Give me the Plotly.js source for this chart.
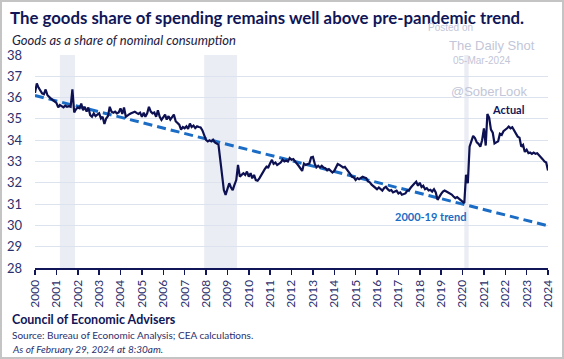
<!DOCTYPE html>
<html>
<head>
<meta charset="utf-8">
<script src="https://cdn.plot.ly/plotly-3.0.1.min.js"></script>
<style>
  html, body { margin: 0; padding: 0; background: #ffffff; }
  #wrap { position: relative; width: 564px; height: 359px; }
  #chart { position: absolute; left: 0; top: 0; width: 564px; height: 359px; }
  #frame { position: absolute; left: 0; top: 0; width: 564px; height: 359px; box-sizing: border-box; border: 2px solid #c4c4c4; pointer-events: none; }
</style>
</head>
<body>
<div id="wrap"><div id="chart"></div><div id="frame"></div></div>
<script>
// ---- Data ----
const startYear = 2000;
const goodsShare = [
  // 2000
  36.22,36.66,36.47,36.30,36.20,36.16,36.38,36.11,36.00,35.95,35.88,35.80,
  // 2001
  35.75,35.54,35.65,35.60,35.54,35.62,35.57,35.60,35.57,36.39,35.30,35.45,
  // 2002
  35.54,35.50,35.72,35.41,35.57,35.34,35.54,35.18,35.10,35.26,35.13,35.20,
  // 2003
  35.26,35.02,35.10,34.76,35.02,35.13,35.57,35.34,35.29,35.34,35.26,35.30,
  // 2004
  35.49,35.23,35.54,35.10,35.18,35.22,35.26,35.30,35.34,35.28,35.23,35.29,
  // 2005
  35.10,35.29,35.10,35.26,35.57,35.34,35.26,35.30,35.10,35.41,35.10,34.95,
  // 2006
  35.07,35.20,34.97,35.13,34.97,35.09,35.20,34.89,34.81,34.73,34.50,34.62,
  // 2007
  34.56,34.65,34.53,34.78,34.62,34.69,34.57,34.65,34.62,34.60,34.46,34.21,
  // 2008
  34.02,33.94,33.99,33.94,34.02,33.90,33.85,33.79,33.08,32.29,31.66,31.43,
  // 2009
  31.74,31.98,31.79,31.66,31.90,32.13,32.84,32.29,32.37,32.45,32.37,32.53,
  // 2010
  32.29,32.45,32.21,32.37,32.13,32.10,32.21,32.37,32.53,32.64,32.76,32.73,
  // 2011
  32.92,33.08,32.89,32.95,32.84,32.92,32.95,33.08,33.00,33.05,33.00,33.16,
  // 2012
  33.08,33.11,33.03,32.90,32.80,32.64,32.56,32.90,32.84,32.88,32.90,33.19,
  // 2013
  33.22,32.90,32.72,32.80,32.72,32.80,32.72,32.69,32.59,32.64,32.55,32.48,
  // 2014
  32.56,32.75,32.88,32.84,32.80,32.72,32.75,32.65,32.56,32.41,32.28,32.25,
  // 2015
  32.13,32.22,32.17,32.22,32.28,32.25,32.22,32.06,32.02,31.91,31.85,31.78,
  // 2016
  31.70,31.78,31.70,31.63,31.75,31.81,31.70,31.63,31.66,31.55,31.59,31.63,
  // 2017
  31.50,31.55,31.44,31.47,31.50,31.63,31.66,31.78,31.90,31.97,32.05,31.86,
  // 2018
  32.00,31.80,31.86,31.70,31.75,31.64,31.67,31.59,31.70,31.55,31.20,31.36,
  // 2019
  31.48,31.59,31.64,31.59,31.55,31.48,31.45,31.36,31.28,31.33,31.25,31.20,
  // 2020
  31.10,31.05,32.38,31.98,33.70,34.00,34.20,34.10,33.90,33.83,33.70,34.00,
  // 2021
  34.55,33.75,35.23,35.05,34.50,34.35,33.85,33.90,33.95,34.30,34.25,34.42,
  // 2022
  34.48,34.56,34.64,34.56,34.61,34.48,34.33,34.17,34.12,33.70,33.78,33.45,
  // 2023
  33.55,33.39,33.42,33.36,33.42,33.36,33.39,33.30,33.23,33.11,33.00,32.95,
  // 2024
  32.58
];
const trendDates = ['2000-01-01', '2024-01-01'];
const trendValues = [36.10, 29.98];
const recessionStart = ['2001-03-01', '2007-12-01', '2020-02-01'];
const recessionEnd   = ['2001-11-15', '2009-06-15', '2020-04-15'];
const yTicks = [28, 29, 30, 31, 32, 33, 34, 35, 36, 37, 38];
const xTickYears = ['2000','2001','2002','2003','2004','2005','2006','2007','2008','2009','2010','2011','2012','2013','2014','2015','2016','2017','2018','2019','2020','2021','2022','2023','2024'];

// monthly dates for the series
const dates = goodsShare.map((_, i) => {
  const y = startYear + Math.floor(i / 12);
  const m = (i % 12) + 1;
  return y + '-' + (m < 10 ? '0' + m : m) + '-01';
});

// ---- Layout geometry ----
const W = 564, H = 359;
const M = { l: 35, r: 16, t: 55, b: 91 };
const PW = W - M.l - M.r, PH = H - M.t - M.b;
const px = x => (x - M.l) / PW;
const py = y => 1 - (y - M.t) / PH;

const navy = '#101657';
const lineNavy = '#0d1152';
const trendBlue = '#1a6cc4';
const tickNavy = '#2a2f6e';
const wm = '#c3c6d8';
const FONT = 'Lato, "Open Sans", sans-serif';

const traces = [
  {
    x: trendDates, y: trendValues, type: 'scatter', mode: 'lines',
    line: { color: trendBlue, width: 3, dash: '9px,5px' },
    hoverinfo: 'skip', showlegend: false
  },
  {
    x: dates, y: goodsShare, type: 'scatter', mode: 'lines',
    line: { color: lineNavy, width: 2.2 },
    hoverinfo: 'skip', showlegend: false
  }
];

const shapes = recessionStart.map((s, i) => ({
  type: 'rect', xref: 'x', yref: 'y', x0: s, x1: recessionEnd[i], y0: 28, y1: 38,
  fillcolor: '#eaedf4', line: { width: 0 }, layer: 'below'
}));

const annotations = [
  { text: 'Goods as a share of nominal consumption', xref: 'paper', yref: 'paper', x: px(10), y: py(40),
    xanchor: 'left', yanchor: 'middle', showarrow: false,
    font: { family: FONT, size: 13, color: '#1c2040', style: 'italic' } },
  { text: 'Posted on', xref: 'paper', yref: 'paper', x: px(450), y: py(28), xanchor: 'center', yanchor: 'middle',
    showarrow: false, font: { family: 'Arial, sans-serif', size: 10, color: wm } },
  { text: 'The Daily Shot', xref: 'paper', yref: 'paper', x: px(492), y: py(45), xanchor: 'center', yanchor: 'middle',
    showarrow: false, font: { family: 'Arial, sans-serif', size: 13, color: wm } },
  { text: '05-Mar-2024', xref: 'paper', yref: 'paper', x: px(482), y: py(61), xanchor: 'center', yanchor: 'middle',
    showarrow: false, font: { family: 'Arial, sans-serif', size: 10, color: wm } },
  { text: '@SoberLook', xref: 'paper', yref: 'paper', x: px(489), y: py(91), xanchor: 'center', yanchor: 'middle',
    showarrow: false, font: { family: 'Arial, sans-serif', size: 13, color: wm } },
  { text: '<b>Actual</b>', xref: 'x', yref: 'y', x: '2022-03-01', y: 35.46, xanchor: 'center', yanchor: 'middle',
    showarrow: false, font: { family: FONT, size: 11, color: navy } },
  { text: '<b>2000-19 trend</b>', xref: 'x', yref: 'y', x: '2018-07-01', y: 30.44, xanchor: 'center', yanchor: 'middle',
    showarrow: false, font: { family: FONT, size: 11, color: trendBlue } },
  { text: '<b>Council of Economic Advisers</b>', xref: 'paper', yref: 'paper', x: px(10), y: py(319),
    xanchor: 'left', yanchor: 'middle', showarrow: false, font: { family: FONT, size: 12.5, color: navy } },
  { text: 'Source: Bureau of Economic Analysis; CEA calculations.', xref: 'paper', yref: 'paper', x: px(10), y: py(335),
    xanchor: 'left', yanchor: 'middle', showarrow: false, font: { family: FONT, size: 10, color: '#2a2f6e' } },
  { text: 'As of February 29, 2024 at 8:30am.', xref: 'paper', yref: 'paper', x: px(10), y: py(349),
    xanchor: 'left', yanchor: 'middle', showarrow: false, font: { family: FONT, size: 10, color: '#2a2f6e', style: 'italic' } }
];

const layout = {
  width: W, height: H,
  margin: M,
  paper_bgcolor: '#ffffff', plot_bgcolor: '#ffffff',
  showlegend: false,
  title: {
    text: '<b>The goods share of spending remains well above pre-pandemic trend.</b>',
    xref: 'container', yref: 'container', x: 10 / W, y: 1 - 18 / H, xanchor: 'left', yanchor: 'middle',
    font: { family: FONT, size: 16.8, color: navy }
  },
  xaxis: {
    type: 'date', range: ['2000-01-01', '2024-01-01'],
    tickmode: 'array', tickvals: xTickYears.map(y => y + '-01-01'), ticktext: xTickYears,
    tickangle: -90, ticks: 'outside', ticklen: 5, tickwidth: 1.5, tickcolor: navy,
    showline: true, linecolor: navy, linewidth: 2, showgrid: false, zeroline: false,
    tickfont: { family: FONT, size: 12, color: tickNavy }
  },
  yaxis: {
    range: [28, 38], tickmode: 'array', tickvals: yTicks, ticktext: yTicks.map(String),
    showgrid: true, gridcolor: '#dde2ef', gridwidth: 1, zeroline: false, showline: false,
    ticks: '', ticklabelstandoff: 12,
    tickfont: { family: FONT, size: 13, color: tickNavy }
  },
  shapes: shapes,
  annotations: annotations
};

Plotly.newPlot('chart', traces, layout, { staticPlot: true, displayModeBar: false });
</script>
</body>
</html>
